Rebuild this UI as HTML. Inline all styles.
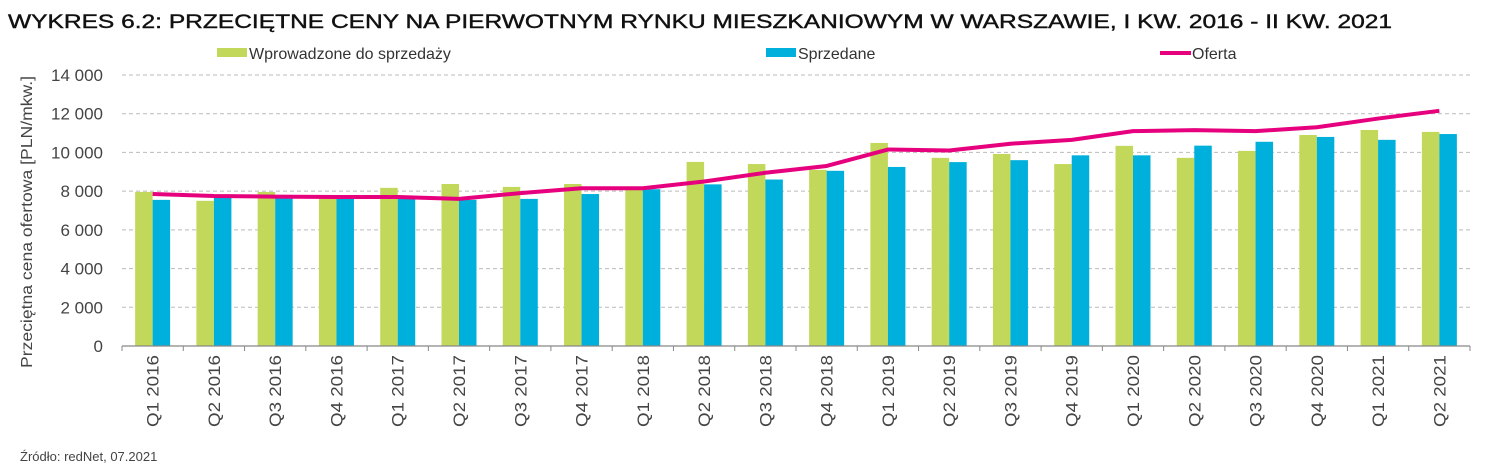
<!DOCTYPE html>
<html><head><meta charset="utf-8"><style>
html,body{margin:0;padding:0;background:#fff;}
svg{display:block;font-family:"Liberation Sans",sans-serif;}
</style></head><body>
<svg id="c" width="1497" height="473" xmlns="http://www.w3.org/2000/svg">
<text x="8" y="28" font-size="19" fill="#111" stroke="#111" stroke-width="0.4" textLength="1384" lengthAdjust="spacingAndGlyphs">WYKRES 6.2: PRZECIĘTNE CENY NA PIERWOTNYM RYNKU MIESZKANIOWYM W WARSZAWIE, I KW. 2016 - II KW. 2021</text>
<rect x="217" y="48" width="30" height="9" fill="#c1d85a"/>
<text x="249" y="59" font-size="16" fill="#333">Wprowadzone do sprzedaży</text>
<rect x="766" y="48" width="30" height="9" fill="#00b0dc"/>
<text x="798" y="59" font-size="16" fill="#333">Sprzedane</text>
<line x1="1160" y1="53" x2="1191" y2="53" stroke="#e6007e" stroke-width="4"/>
<text x="1192" y="59" font-size="16" fill="#333">Oferta</text>
<text transform="translate(32,222) rotate(-90)" text-anchor="middle" font-size="16" fill="#444" textLength="292" lengthAdjust="spacingAndGlyphs">Przeciętna cena ofertowa [PLN/mkw.]</text>
<text x="20" y="461" font-size="13" fill="#444">Źródło: redNet, 07.2021</text>
<g id="g"></g>
</svg>
<script>
var g=document.getElementById('g'),s='';
var x0=122,x1=1470,y0=346,k=(346-75)/14000,n=22,w=(x1-x0)/n;
function Y(v){return y0-v*k;}
for(var i=0;i<=7;i++){var y=Y(i*2000);
 if(i>0)s+='<line x1="'+x0+'" x2="'+x1+'" y1="'+y+'" y2="'+y+'" stroke="#bbb" stroke-dasharray="4,3" stroke-width="1"/>';
 s+='<text x="103" y="'+(y+6)+'" text-anchor="end" font-size="17" fill="#444">'+(i==0?'0':(i*2)+' 000')+'</text>';}
var G=[7960,7500,7960,7750,8170,8370,8220,8370,8060,9510,9400,9100,10490,9720,9920,9400,10340,9720,10080,10900,11160,11060];
var B=[7550,7650,7650,7650,7650,7550,7600,7850,8100,8350,8600,9050,9250,9500,9600,9850,9850,10350,10550,10800,10650,10950];
var O=[7850,7750,7720,7700,7700,7600,7900,8150,8150,8500,8950,9300,10150,10100,10450,10650,11100,11150,11100,11300,11750,12150];
var lab=['Q1 2016','Q2 2016','Q3 2016','Q4 2016','Q1 2017','Q2 2017','Q3 2017','Q4 2017','Q1 2018','Q2 2018','Q3 2018','Q4 2018','Q1 2019','Q2 2019','Q3 2019','Q4 2019','Q1 2020','Q2 2020','Q3 2020','Q4 2020','Q1 2021','Q2 2021'];
var pts=[];
for(var i=0;i<n;i++){var c=x0+w*(i+0.5);
 s+='<rect x="'+(c-17.5)+'" y="'+Y(G[i])+'" width="17.5" height="'+(G[i]*k)+'" fill="#c1d85a"/>';
 s+='<rect x="'+c+'" y="'+Y(B[i])+'" width="17.5" height="'+(B[i]*k)+'" fill="#00b0dc"/>';
 pts.push(c+','+Y(O[i]));
 s+='<text transform="translate('+(c+6)+',355) rotate(-90)" text-anchor="end" font-size="17" fill="#444" textLength="72" lengthAdjust="spacingAndGlyphs">'+lab[i]+'</text>';}
for(var i=0;i<=n;i++){var x=x0+w*i;s+='<line x1="'+x+'" x2="'+x+'" y1="'+y0+'" y2="'+(y0+5)+'" stroke="#888"/>';}
s+='<line x1="'+x0+'" x2="'+x1+'" y1="'+y0+'" y2="'+y0+'" stroke="#888" stroke-width="1.2"/>';
s+='<polyline points="'+pts.join(' ')+'" fill="none" stroke="#e6007e" stroke-width="4" stroke-linejoin="round"/>';
g.innerHTML=s;
</script>
</body></html>
